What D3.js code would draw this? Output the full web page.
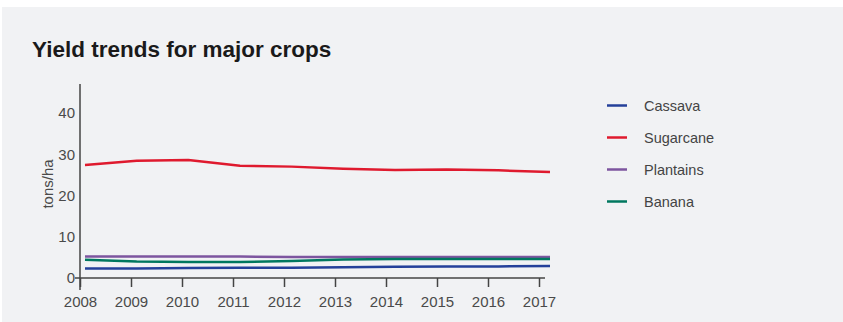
<!DOCTYPE html>
<html>
<head>
<meta charset="utf-8">
<script src="https://cdn.jsdelivr.net/npm/d3@7"></script>
<style>
  body { margin: 0; background: #fff; }
  svg { display: block; }
  text { font-family: "Liberation Sans", Arial, sans-serif; }
</style>
</head>
<body>
<div id="chart"></div>
<script>
  // chart data
  let years = [2008, 2009, 2010, 2011, 2012, 2013, 2014, 2015, 2016, 2017];
  let cassava = [2.3, 2.3, 2.4, 2.5, 2.5, 2.6, 2.7, 2.8, 2.8, 2.9];
  let sugarcane = [27.4, 28.4, 28.6, 27.2, 27.0, 26.5, 26.2, 26.3, 26.1, 25.7];
  let plantains = [5.2, 5.2, 5.2, 5.2, 5.1, 5.1, 5.1, 5.1, 5.1, 5.1];
  let banana = [4.4, 4.0, 3.9, 3.9, 4.1, 4.5, 4.6, 4.6, 4.6, 4.6];
  let yTicks = [0, 10, 20, 30, 40];
  let seriesNames = ['Cassava', 'Sugarcane', 'Plantains', 'Banana'];
  let seriesColors = ['#24409a', '#df1a2e', '#7d559f', '#00775f'];

  let w = 843;
  let h = 322;
  let marginLeft = 80;
  let marginTop = 84;

  let svg = d3.select('#chart')
    .append('svg')
    .attr('width', w)
    .attr('height', h);

  // grey panel
  svg.append('rect')
    .attr('x', 2)
    .attr('y', 7)
    .attr('width', w - 2)
    .attr('height', h - 7)
    .attr('fill', '#f1f2f4');

  svg.append('text')
    .attr('x', 32)
    .attr('y', 57)
    .attr('font-size', 22.5)
    .attr('font-weight', 'bold')
    .attr('fill', '#1a1a1a')
    .text('Yield trends for major crops');

  let x = d3.scaleLinear().domain([2008, 2017]).range([0, 459]);
  // the lines sit a little right of the ticks in the original
  let xLine = d3.scaleLinear().domain([2008, 2017]).range([5, 470]);
  let y = d3.scaleLinear().domain([0, 40]).range([194, 29]);

  let g = svg.append('g').attr('transform', 'translate(' + marginLeft + ',' + marginTop + ')');

  // x axis
  let xAxis = g.append('g')
    .attr('transform', 'translate(0,' + y(0) + ')')
    .call(d3.axisBottom(x).tickValues(years).tickFormat(d3.format('d')).tickSize(9).tickSizeOuter(0));
  xAxis.select('.domain').remove();
  xAxis.append('line')
    .attr('x1', -5).attr('x2', 465)
    .attr('stroke', '#444').attr('stroke-width', 1.5);
  xAxis.selectAll('.tick line').attr('stroke', '#444').attr('stroke-width', 1.5);
  xAxis.selectAll('.tick text')
    .attr('y', 18)
    .attr('font-size', 15)
    .attr('font-family', '"Liberation Sans", Arial, sans-serif')
    .attr('fill', '#4a4a4a');

  // y axis
  let yAxis = g.append('g')
    .call(d3.axisLeft(y).tickValues(yTicks).tickSize(0).tickPadding(5));
  yAxis.select('.domain').remove();
  yAxis.append('line')
    .attr('y1', 0).attr('y2', 206)
    .attr('stroke', '#444').attr('stroke-width', 1.5);
  yAxis.selectAll('.tick text')
    .attr('font-size', 15)
    .attr('font-family', '"Liberation Sans", Arial, sans-serif')
    .attr('fill', '#4a4a4a');

  svg.append('text')
    .attr('transform', 'translate(53,184) rotate(-90)')
    .attr('text-anchor', 'middle')
    .attr('font-size', 15)
    .attr('fill', '#4a4a4a')
    .text('tons/ha');

  let dataset = [cassava, sugarcane, plantains, banana];
  let line = d3.line()
    .x(function(d, i) { return xLine(years[i]); })
    .y(function(d) { return y(d); });

  g.selectAll('path.series')
    .data([plantains, banana, cassava, sugarcane])
    .enter()
    .append('path')
    .attr('class', 'series')
    .attr('d', line)
    .attr('fill', 'none')
    .attr('stroke-width', 2.5)
    .attr('stroke', function(d) { return seriesColors[dataset.indexOf(d)]; });

  // legend
  let legend = svg.selectAll('g.legend')
    .data(seriesNames)
    .enter()
    .append('g')
    .attr('class', 'legend')
    .attr('transform', function(d, i) { return 'translate(607,' + (105.5 + i * 32) + ')'; });
  legend.append('line')
    .attr('x1', 0).attr('x2', 20)
    .attr('stroke-width', 2.5)
    .attr('stroke', function(d, i) { return seriesColors[i]; });
  legend.append('text')
    .attr('x', 37)
    .attr('y', 5)
    .attr('font-size', 14.5)
    .attr('fill', '#444')
    .text(function(d) { return d; });
</script>
</body>
</html>
